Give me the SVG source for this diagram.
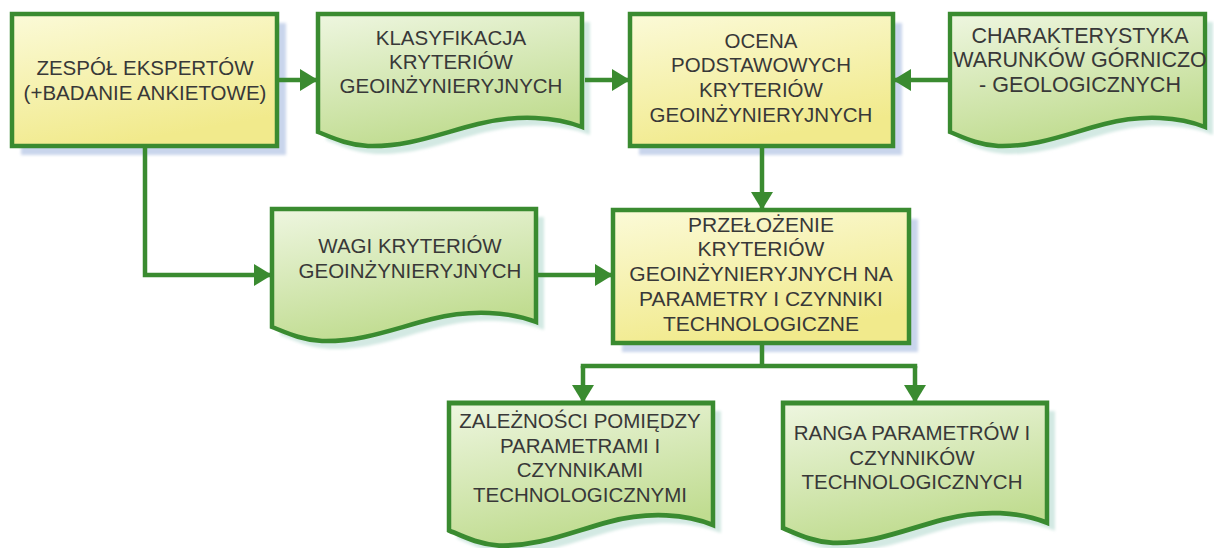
<svg xmlns="http://www.w3.org/2000/svg" xmlns:xlink="http://www.w3.org/1999/xlink" width="1214" height="548" viewBox="0 0 1214 548">
<defs>
<linearGradient id="gy" x1="0" y1="0" x2="0.35" y2="1">
<stop offset="0" stop-color="#fbfad8"/>
<stop offset="1" stop-color="#f1ea8c"/>
</linearGradient>
<linearGradient id="gg" x1="0" y1="0" x2="0.35" y2="1">
<stop offset="0" stop-color="#eef6e0"/>
<stop offset="1" stop-color="#c0dc90"/>
</linearGradient>
<filter id="blur" x="-10%" y="-10%" width="120%" height="120%">
<feGaussianBlur stdDeviation="1.5"/>
</filter>
<path id="doc" d="M0,0 H264 V113 C238,103 200,100 160,110 C120,120 90,133 50,132 C30,131 15,124 0,118 Z"/>
<marker id="ah" markerUnits="userSpaceOnUse" markerWidth="18" markerHeight="22" refX="18" refY="11" orient="auto" viewBox="0 0 18 22">
<path d="M0,0 L18,11 L0,22 Z" fill="#3a8b30"/>
</marker>
</defs>
<style>
.box{fill:url(#gy);stroke:#3a8b30;stroke-width:4.5}
.doc{fill:url(#gg);stroke:#3a8b30;stroke-width:4.5;stroke-linejoin:miter}
.shy{fill:#c9d5ec;filter:url(#blur)}
.shd{fill:#d3e9e3;filter:url(#blur)}
.t{font-family:"Liberation Sans",Arial,sans-serif;font-size:20.5px;fill:#383838;text-anchor:middle}
.con{fill:none;stroke:#3a8b30;stroke-width:4.5}
</style>
<rect width="1214" height="548" fill="#ffffff"/>

<g id="n1">
<rect class="shy" x="21" y="23" width="265" height="132"/>
<rect class="box" x="12" y="14" width="265" height="132"/>
<text class="t" x="145" y="75">ZESPÓŁ EKSPERTÓW</text>
<text class="t" x="145" y="100">(+BADANIE ANKIETOWE)</text>
</g>

<g id="n2">
<use xlink:href="#doc" class="shd" transform="translate(326,22)"/>
<use xlink:href="#doc" class="doc" transform="translate(318,14)"/>
<text class="t" x="451" y="45">KLASYFIKACJA</text>
<text class="t" x="451" y="69">KRYTERIÓW</text>
<text class="t" x="451" y="93">GEOINŻYNIERYJNYCH</text>
</g>

<g id="n3">
<rect class="shy" x="639" y="23" width="263" height="132"/>
<rect class="box" x="630" y="14" width="263" height="132"/>
<text class="t" x="761" y="48">OCENA</text>
<text class="t" x="761" y="72">PODSTAWOWYCH</text>
<text class="t" x="761" y="97">KRYTERIÓW</text>
<text class="t" x="761" y="122">GEOINŻYNIERYJNYCH</text>
</g>

<g id="n4">
<use xlink:href="#doc" class="shd" transform="translate(958,22) scale(0.966,1)"/>
<use xlink:href="#doc" class="doc" vector-effect="non-scaling-stroke" transform="translate(950,14) scale(0.966,1)"/>
<text class="t" x="1080" y="43" style="font-size:21.5px">CHARAKTERYSTYKA</text>
<text class="t" x="1080" y="67" style="font-size:21.5px">WARUNKÓW GÓRNICZO</text>
<text class="t" x="1080" y="92" style="font-size:21.5px">- GEOLOGICZNYCH</text>
</g>

<g id="n5">
<use xlink:href="#doc" class="shd" transform="translate(280,217)"/>
<use xlink:href="#doc" class="doc" transform="translate(272,209)"/>
<text class="t" x="410" y="253">WAGI KRYTERIÓW</text>
<text class="t" x="410" y="278">GEOINŻYNIERYJNYCH</text>
</g>

<g id="n6">
<rect class="shy" x="622" y="219" width="296" height="133"/>
<rect class="box" x="613" y="210" width="296" height="133"/>
<text class="t" x="761" y="232" style="font-size:21px">PRZEŁOŻENIE</text>
<text class="t" x="761" y="256" style="font-size:21px">KRYTERIÓW</text>
<text class="t" x="761" y="281" style="font-size:21px">GEOINŻYNIERYJNYCH NA</text>
<text class="t" x="761" y="306" style="font-size:21px">PARAMETRY I CZYNNIKI</text>
<text class="t" x="761" y="331" style="font-size:21px">TECHNOLOGICZNE</text>
</g>

<g id="n7">
<use xlink:href="#doc" class="shd" transform="translate(457,411) scale(1,1.08)"/>
<use xlink:href="#doc" class="doc" vector-effect="non-scaling-stroke" transform="translate(449,403) scale(1,1.08)"/>
<text class="t" x="580" y="428">ZALEŻNOŚCI POMIĘDZY</text>
<text class="t" x="580" y="453">PARAMETRAMI I</text>
<text class="t" x="580" y="477">CZYNNIKAMI</text>
<text class="t" x="580" y="502">TECHNOLOGICZNYMI</text>
</g>

<g id="n8">
<use xlink:href="#doc" class="shd" transform="translate(791,411) scale(1,1.06)"/>
<use xlink:href="#doc" class="doc" vector-effect="non-scaling-stroke" transform="translate(783,403) scale(1,1.06)"/>
<text class="t" x="912" y="440">RANGA PARAMETRÓW I</text>
<text class="t" x="912" y="465">CZYNNIKÓW</text>
<text class="t" x="912" y="489">TECHNOLOGICZNYCH</text>
</g>

<g id="connectors">
<path class="con" d="M279,80 H318" marker-end="url(#ah)"/>
<path class="con" d="M585,80 H630" marker-end="url(#ah)"/>
<path class="con" d="M948,80 H893" marker-end="url(#ah)"/>
<path class="con" d="M762,148 V210" marker-end="url(#ah)"/>
<path class="con" d="M145,148 V275 H272" marker-end="url(#ah)"/>
<path class="con" d="M538,275 H613" marker-end="url(#ah)"/>
<path class="con" d="M762,345 V366"/>
<path class="con" d="M583,366 V403" marker-end="url(#ah)"/>
<path class="con" d="M915,366 V403" marker-end="url(#ah)"/>
<path class="con" d="M580.75,366 H917.25"/>
</g>
</svg>
